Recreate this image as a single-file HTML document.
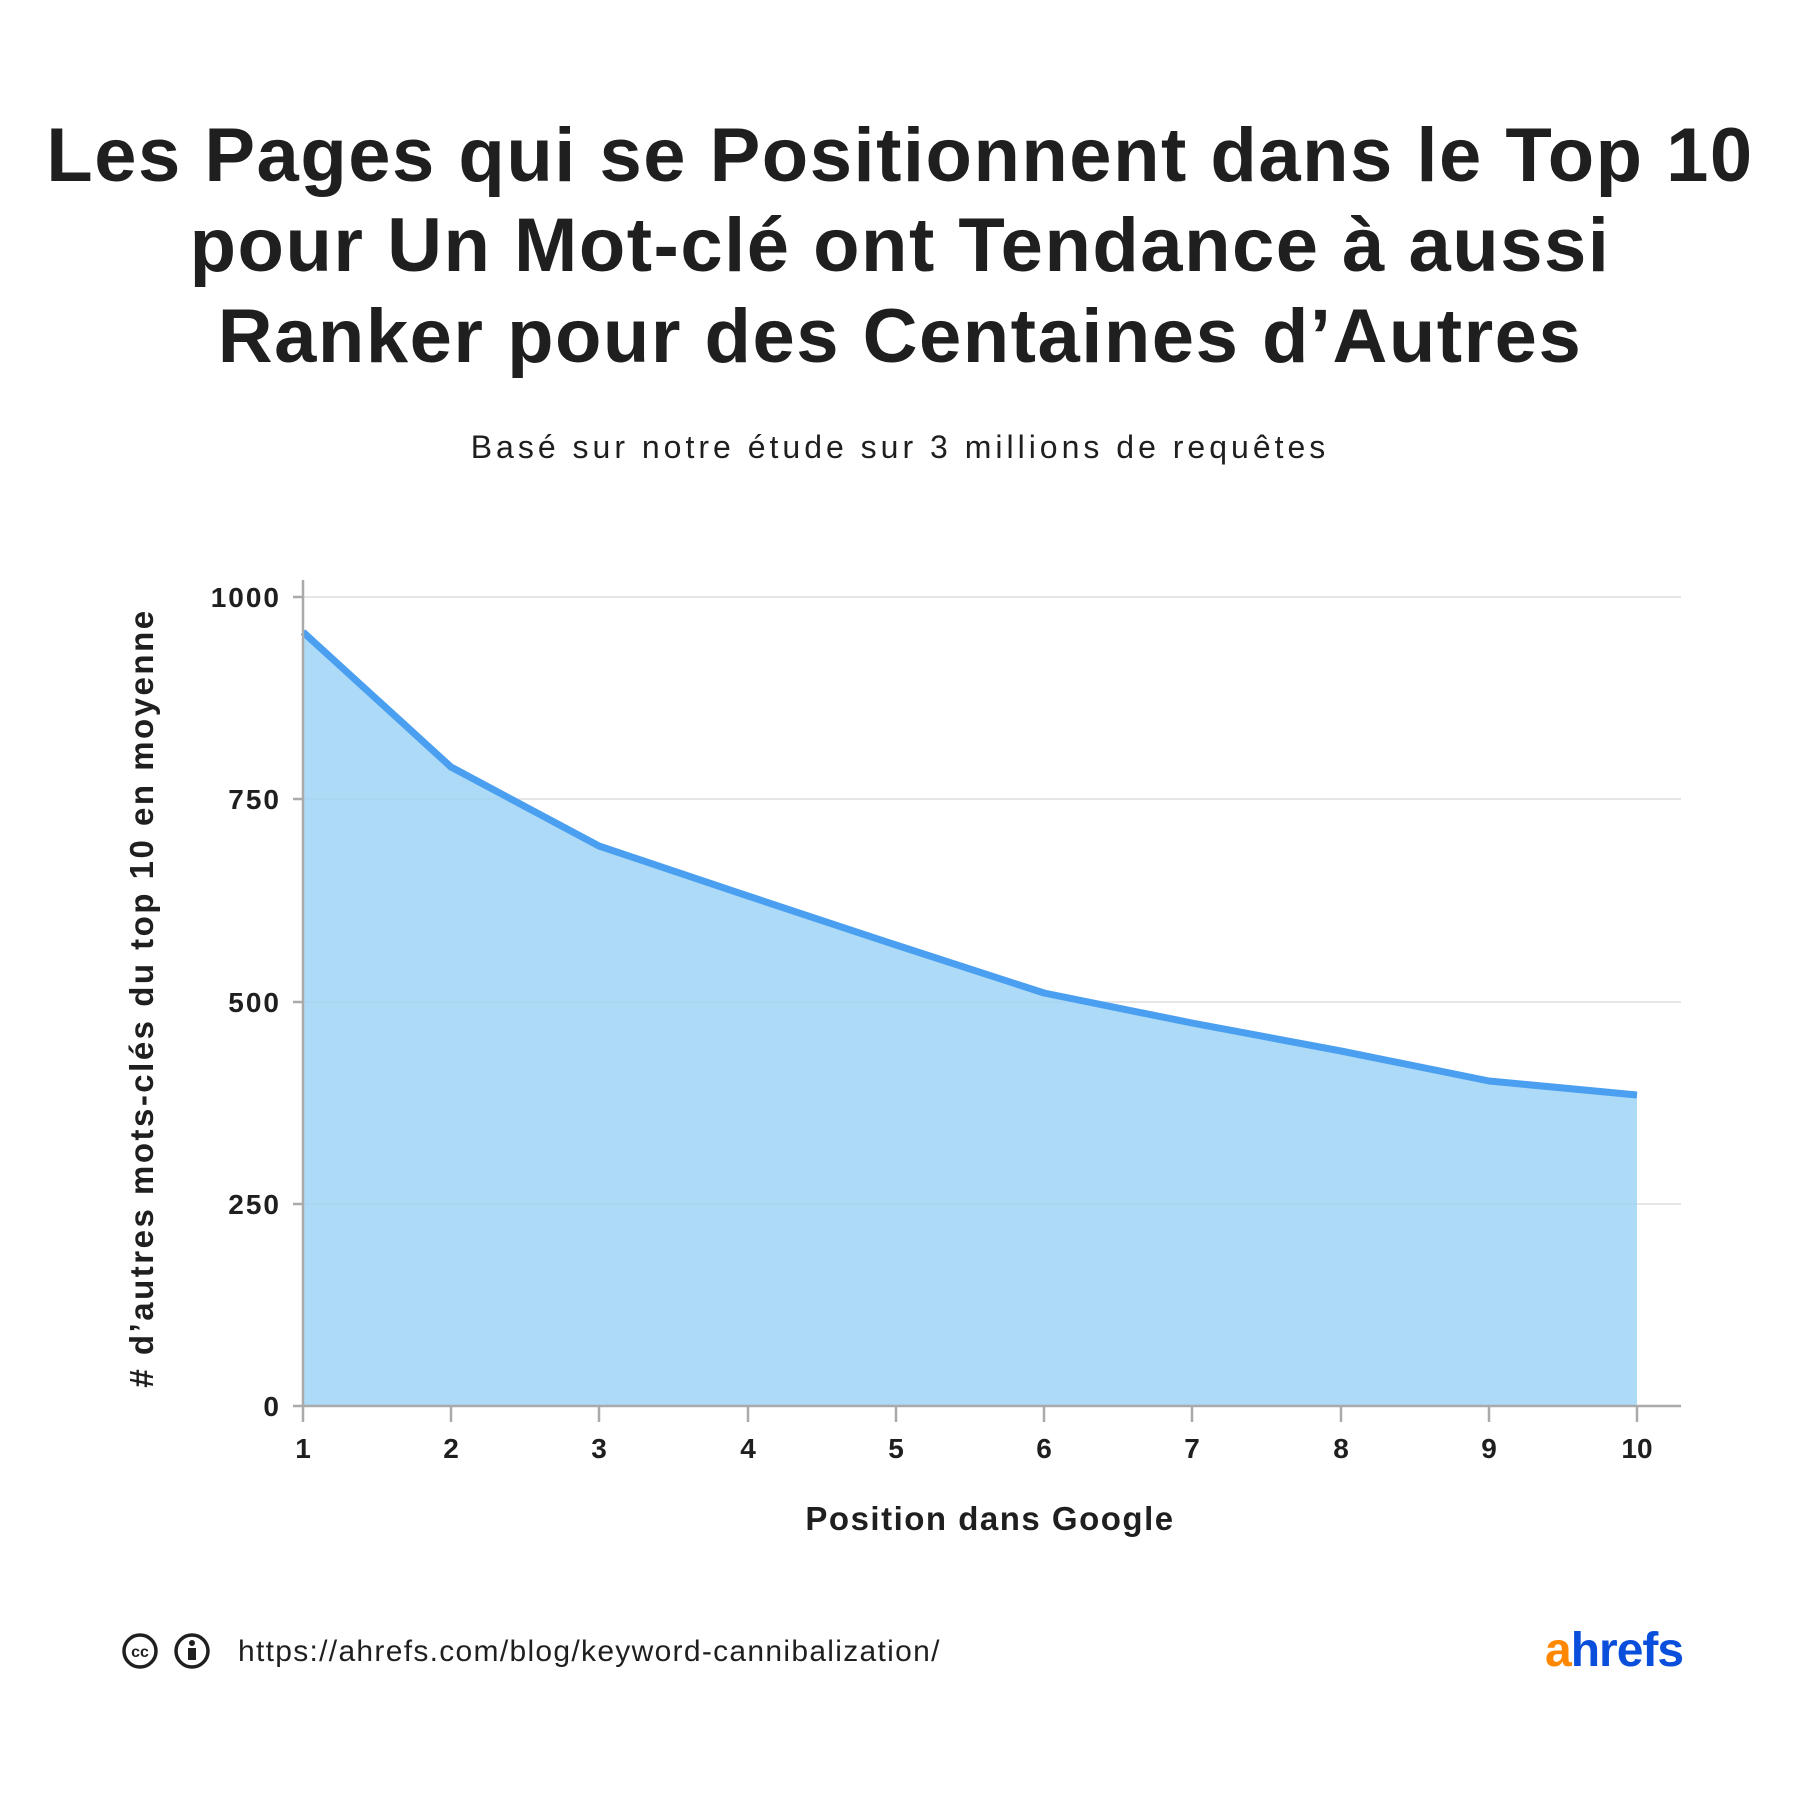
<!DOCTYPE html>
<html><head><meta charset="utf-8"><style>
body{margin:0;background:#fff;}
svg text{font-family:"Liberation Sans",sans-serif;}
</style></head><body>
<svg width="1800" height="1789" viewBox="0 0 1800 1789" xmlns="http://www.w3.org/2000/svg">
<rect width="1800" height="1789" fill="#fff"/>
<g font-weight="bold" font-size="76" fill="#1f1f1f" text-anchor="middle" letter-spacing="1.5">
<text x="900" y="181">Les Pages qui se Positionnent dans le Top 10</text>
<text x="900" y="271">pour Un Mot-clé ont Tendance à aussi</text>
<text x="900" y="362">Ranker pour des Centaines d’Autres</text>
</g>
<text x="900" y="458" font-size="32" fill="#1f1f1f" text-anchor="middle" letter-spacing="4">Basé sur notre étude sur 3 millions de requêtes</text>
<g stroke="#dedede" stroke-width="1.5">
<line x1="303" x2="1681" y1="597" y2="597"/>
<line x1="303" x2="1681" y1="799" y2="799"/>
<line x1="303" x2="1681" y1="1002" y2="1002"/>
<line x1="303" x2="1681" y1="1204" y2="1204"/>
</g>
<path d="M303,632 L451,767 L599,846 L748,896 L896,945 L1044,993 L1192,1023 L1341,1051 L1489,1081 L1637,1095 L1637,1406 L303,1406 Z" fill="#9fd4f5" fill-opacity="0.85"/>
<polyline points="303,632 451,767 599,846 748,896 896,945 1044,993 1192,1023 1341,1051 1489,1081 1637,1095" fill="none" stroke="#4a9ff0" stroke-width="7" stroke-linejoin="round"/>
<g stroke="#aaa" stroke-width="2.5">
<line x1="303" x2="303" y1="580" y2="1406"/>
<line x1="293" x2="1681" y1="1406" y2="1406"/>
<line x1="293" x2="303" y1="597" y2="597"/><line x1="293" x2="303" y1="799" y2="799"/><line x1="293" x2="303" y1="1002" y2="1002"/><line x1="293" x2="303" y1="1204" y2="1204"/>
<line x1="303" x2="303" y1="1406" y2="1422"/><line x1="451" x2="451" y1="1406" y2="1422"/><line x1="599" x2="599" y1="1406" y2="1422"/><line x1="748" x2="748" y1="1406" y2="1422"/><line x1="896" x2="896" y1="1406" y2="1422"/><line x1="1044" x2="1044" y1="1406" y2="1422"/><line x1="1192" x2="1192" y1="1406" y2="1422"/><line x1="1341" x2="1341" y1="1406" y2="1422"/><line x1="1489" x2="1489" y1="1406" y2="1422"/><line x1="1637" x2="1637" y1="1406" y2="1422"/>
</g>
<g font-size="28" font-weight="bold" fill="#1f1f1f" text-anchor="end" letter-spacing="2">
<text x="281" y="607">1000</text><text x="281" y="809">750</text><text x="281" y="1012">500</text><text x="281" y="1214">250</text><text x="281" y="1416">0</text>
</g>
<g font-size="28" font-weight="bold" fill="#1f1f1f" text-anchor="middle">
<text x="303" y="1458">1</text><text x="451" y="1458">2</text><text x="599" y="1458">3</text><text x="748" y="1458">4</text><text x="896" y="1458">5</text><text x="1044" y="1458">6</text><text x="1192" y="1458">7</text><text x="1341" y="1458">8</text><text x="1489" y="1458">9</text><text x="1637" y="1458">10</text>
</g>
<text x="990" y="1530" font-size="33" font-weight="bold" fill="#1f1f1f" text-anchor="middle" letter-spacing="1.5">Position dans Google</text>
<text transform="translate(153,998) rotate(-90)" font-size="33" font-weight="bold" fill="#1f1f1f" text-anchor="middle" letter-spacing="2.5">#  d’autres mots-clés du top 10 en moyenne</text>
<g stroke="#1f1f1f" stroke-width="3.5" fill="none">
<circle cx="140" cy="1651" r="16"/><circle cx="192" cy="1651" r="16"/>
</g>
<text x="140" y="1657" font-size="16" font-weight="bold" fill="#1f1f1f" text-anchor="middle">cc</text>
<circle cx="192" cy="1643" r="3" fill="#1f1f1f"/><rect x="188" y="1648" width="8" height="12" fill="#1f1f1f"/>
<text x="238" y="1661" font-size="30" fill="#1f1f1f" letter-spacing="1.3">https://ahrefs.com/blog/keyword-cannibalization/</text>
<text x="1545" y="1666" font-size="48" font-weight="bold" letter-spacing="-1"><tspan fill="#ff8800">a</tspan><tspan fill="#0a4fdc">hrefs</tspan></text>
</svg>
</body></html>
